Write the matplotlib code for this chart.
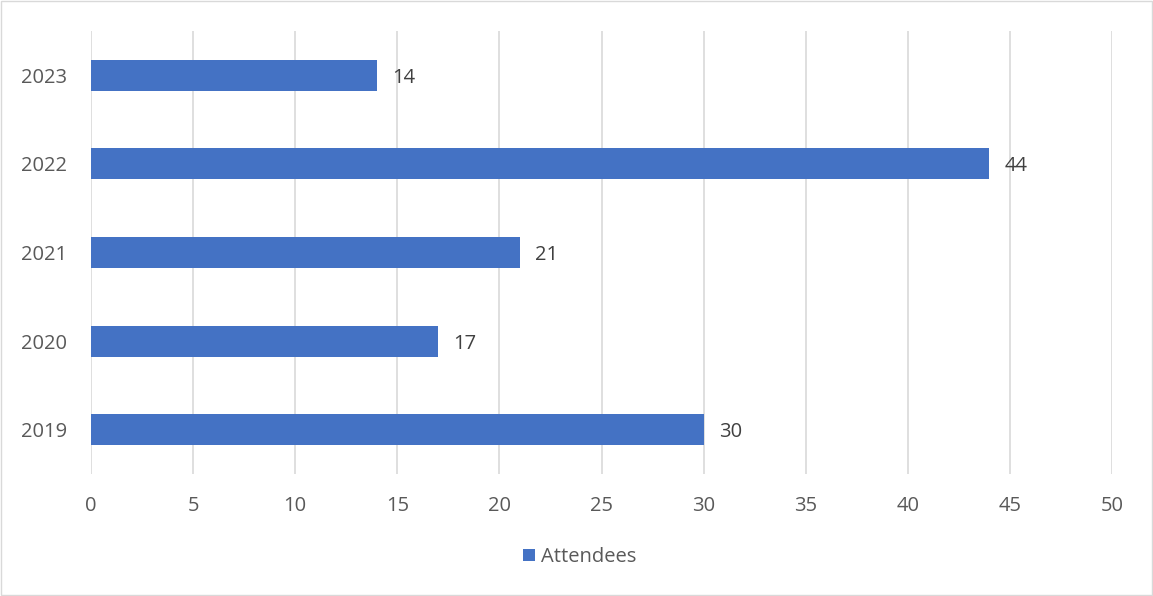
import matplotlib.pyplot as plt
from matplotlib.patches import Rectangle

years = ['2019', '2020', '2021', '2022', '2023']
attendees = [30, 17, 21, 44, 14]
x_ticks = [0, 5, 10, 15, 20, 25, 30, 35, 40, 45, 50]

plt.rcParams['font.family'] = ['Open Sans', 'DejaVu Sans']
text_color = '#595959'
bar_color = '#4472C4'
fs = 14.5

fig = plt.figure(figsize=(11.53, 5.96), dpi=100)
ax = fig.add_axes([91 / 1153, 1 - 474 / 596, (1112 - 91) / 1153, (474 - 31) / 596])

pos = list(range(len(years)))
bars = ax.barh(pos, attendees, height=0.35, color=bar_color, zorder=3, label='Attendees')

# value labels at the bar ends
for y, v in zip(pos, attendees):
    ax.text(v + 0.75, y, str(v), va='center_baseline', ha='left', fontsize=fs, color='#404040')

ax.set_xlim(0, 50)
ax.set_ylim(-0.5, len(years) - 0.5)
ax.set_xticks(x_ticks)
ax.set_yticks(pos)
ax.set_yticklabels(years)
ax.grid(axis='x', color='#d9d9d9', linewidth=1.2, zorder=0)
for s in ax.spines.values():
    s.set_visible(False)
ax.tick_params(axis='both', length=0, labelsize=fs, labelcolor=text_color)
ax.tick_params(axis='x', pad=16)
ax.tick_params(axis='y', pad=17)

fig.legend(handles=[bars], labels=['Attendees'], loc='center', bbox_to_anchor=(0.503, 1 - 557 / 596),
           frameon=False, fontsize=fs, labelcolor=text_color, handlelength=0.6, handleheight=0.6,
           handletextpad=0.3)

fig.patches.append(Rectangle((0.001, 0.001), 0.998, 0.997, transform=fig.transFigure,
                             fill=False, edgecolor='#d9d9d9', linewidth=1))

fig.savefig('out.png', dpi=100)
